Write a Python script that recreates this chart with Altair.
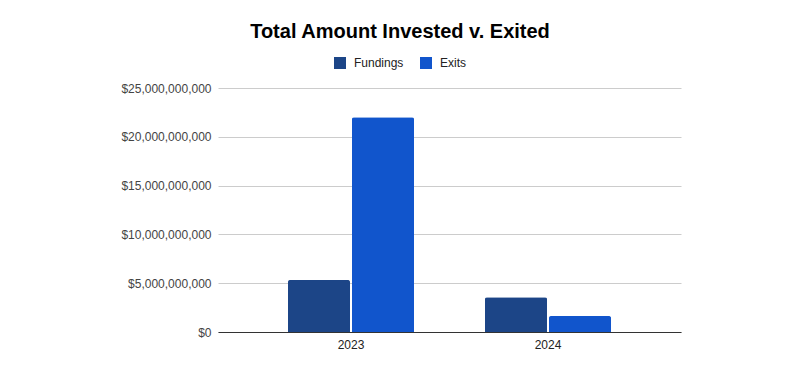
import altair as alt
import pandas as pd

years = ["2023", "2024"]
series = ["Fundings", "Exits"]
fundings = [5.33e9, 3.55e9]
exits = [22.0e9, 1.64e9]
colors = ["#1c4587", "#1155cc"]
y_ticks = [0, 5e9, 10e9, 15e9, 20e9, 25e9]

rows = []
for i, yr in enumerate(years):
    rows.append({"Year": yr, "Series": "Fundings", "Value": fundings[i]})
    rows.append({"Year": yr, "Series": "Exits", "Value": exits[i]})
df = pd.DataFrame(rows)

FONT = "Liberation Sans"

chart = alt.Chart(df).mark_bar(
    cornerRadiusTopLeft=2, cornerRadiusTopRight=2
).encode(
    x=alt.X("Year:N", title=None,
            scale=alt.Scale(paddingInner=0.36, paddingOuter=0.355),
            axis=alt.Axis(labelAngle=0, ticks=False, domainColor="#333333",
                          labelColor="#222222", labelFontSize=12, labelFont=FONT,
                          labelPadding=7, grid=False)),
    xOffset=alt.XOffset("Series:N", sort=series,
                        scale=alt.Scale(paddingInner=0.03, paddingOuter=0)),
    y=alt.Y("Value:Q", title=None,
            scale=alt.Scale(domain=[0, 25e9], nice=False),
            axis=alt.Axis(values=y_ticks, format="$,.0f", ticks=False, domain=False,
                          gridColor="#cccccc", labelColor="#444444", labelFontSize=12,
                          labelFont=FONT, labelPadding=7)),
    color=alt.Color("Series:N", sort=series,
                    scale=alt.Scale(domain=series, range=colors),
                    legend=alt.Legend(title=None, orient="none", direction="horizontal",
                                      legendX=116, legendY=-31, symbolType="square",
                                      symbolSize=144, symbolStrokeWidth=0,
                                      labelFont=FONT, labelFontSize=12,
                                      labelColor="#222222", columnPadding=16,
                                      labelOffset=8)),
).properties(
    width=463,
    height=244,
    title=alt.TitleParams("Total Amount Invested v. Exited", font=FONT, fontSize=20,
                          fontWeight="bold", color="#000000", anchor="middle",
                          dx=-49.5, offset=15),
    autosize=alt.AutoSizeParams(type="none"),
    padding={"left": 210, "top": 80, "right": 111, "bottom": 31},
).configure_view(stroke=None)

chart.save("out.html", embed_options={"renderer": "svg", "actions": False})
